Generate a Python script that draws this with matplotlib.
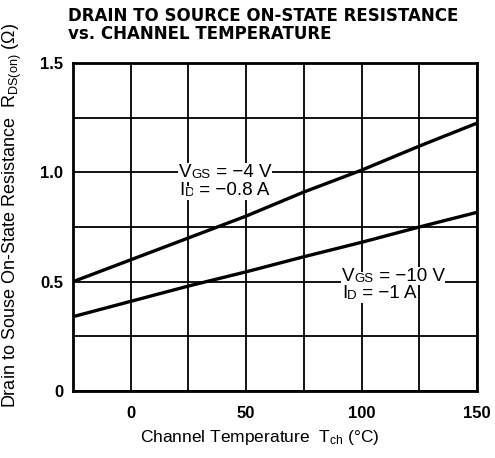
import matplotlib
matplotlib.use('Agg')
import matplotlib.pyplot as plt

plt.rcParams['font.family'] = ['Liberation Sans', 'DejaVu Sans']
plt.rcParams['mathtext.fontset'] = 'custom'
plt.rcParams['mathtext.rm'] = 'Liberation Sans'

# Данные
temp = [-25, 0, 25, 50, 75, 100, 125, 150]
r_vgs4 = [0.50, 0.60, 0.70, 0.80, 0.91, 1.01, 1.12, 1.225]
r_vgs10 = [0.34, 0.41, 0.48, 0.545, 0.614, 0.68, 0.75, 0.817]

x_ticks = [-25, 0, 25, 50, 75, 100, 125, 150]
x_tick_labels = ['', '0', '', '50', '', '100', '', '150']
y_ticks = [0, 0.25, 0.5, 0.75, 1.0, 1.25, 1.5]
y_tick_labels = ['0', '', '0.5', '', '1.0', '', '1.5']

title = 'DRAIN TO SOURCE ON-STATE RESISTANCE\nvs. CHANNEL TEMPERATURE'

fig = plt.figure(figsize=(4.95, 4.58), dpi=100)
ax = fig.add_axes([0.1475, 0.1463, 0.8161, 0.7161])

ax.plot(temp, r_vgs4, color='black', lw=2.4, solid_capstyle='butt')
ax.plot(temp, r_vgs10, color='black', lw=2.4, solid_capstyle='butt')

ax.set_xlim(-25, 150)
ax.set_ylim(0, 1.5)
ax.set_xticks(x_ticks)
ax.set_xticklabels(x_tick_labels)
ax.set_yticks(y_ticks)
ax.set_yticklabels(y_tick_labels)
ax.tick_params(length=0, labelsize=12)
ax.tick_params(axis='x', pad=11)
ax.tick_params(axis='y', pad=7)
for lab in ax.get_xticklabels() + ax.get_yticklabels():
    lab.set_fontweight('bold')
ax.grid(True, color='black', lw=1.3)
for s in ax.spines.values():
    s.set_linewidth(2)


# подпись вида "V" + маленькое "GS" + " = -4 V"
def sub_label(x, y, main, sub, rest):
    box = dict(facecolor='white', edgecolor='none', pad=0.5)
    t1 = ax.text(x, y, main, fontsize=13.5, va='baseline', ha='left', bbox=box, zorder=5)
    t2 = ax.annotate(sub, xy=(1, 0), xycoords=t1, fontsize=9.5, va='bottom', ha='left',
                     bbox=box, zorder=5)
    ax.annotate(rest, xy=(1, 0), xycoords=t2, fontsize=13.5, va='bottom', ha='left',
                bbox=box, zorder=5)


sub_label(21, 0.979, 'V', 'GS', ' = \u22124 V')
sub_label(21, 0.896, 'I', 'D', ' = \u22120.8 A')
sub_label(91.5, 0.505, 'V', 'GS', ' = \u221210 V')
sub_label(91.5, 0.425, 'I', 'D', ' = \u22121 A')

ax.set_xlabel(r'Channel Temperature  $\mathregular{T_{ch}}$ (°C)', fontsize=12.5)
ax.xaxis.set_label_coords(0.463, -0.113)
ax.set_ylabel(r'Drain to Souse On-State Resistance  $\mathregular{R_{DS(on)}}$ (Ω)', fontsize=13)
ax.yaxis.set_label_coords(-0.121, 0.534)

fig.text(0.137, 0.985, title, fontsize=12, fontweight='bold', va='top', ha='left',
         linespacing=1.0, family='DejaVu Sans')

fig.savefig('out.png', dpi=100)
